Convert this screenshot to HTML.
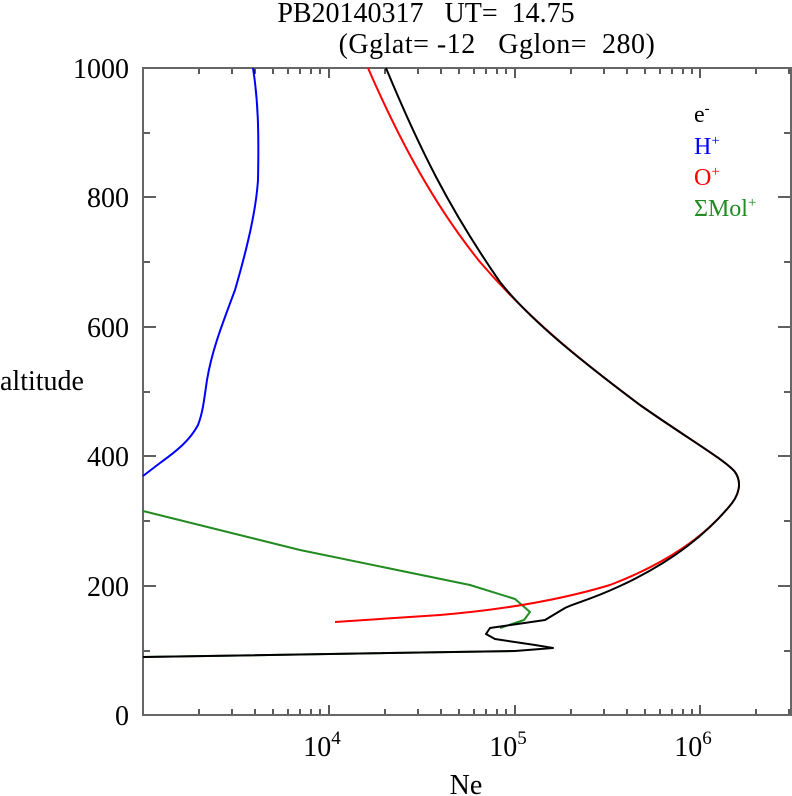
<!DOCTYPE html>
<html><head><meta charset="utf-8"><style>
body{margin:0;background:#fff}
svg{display:block;font-family:"Liberation Serif",serif}
</style></head><body>
<svg width="792" height="796" viewBox="0 0 792 796" xmlns="http://www.w3.org/2000/svg">
<text x="426" y="22" font-size="28" text-anchor="middle" xml:space="preserve">PB20140317   UT=  14.75</text>
<text x="497" y="53" font-size="28" text-anchor="middle" xml:space="preserve" letter-spacing="0.5">(Gglat= -12   Gglon=  280)</text>
<g stroke="#000" stroke-width="1.3">
<path d="M143 68h13M143 197h13M143 327h13M143 456h13M143 586h13M143 715h13
M143 133h7M143 262h7M143 392h7M143 521h7M143 651h7
M791 68h-13M791 197h-13M791 327h-13M791 456h-13M791 586h-13M791 715h-13
M791 133h-7M791 262h-7M791 392h-7M791 521h-7M791 651h-7"/>
<path d="M329 715v-10M515 715v-10M700 715v-10
M199 715v-6M232 715v-6M255 715v-6M273 715v-6M288 715v-6M300 715v-6M311 715v-6M320 715v-6
M385 715v-6M418 715v-6M441 715v-6M459 715v-6M474 715v-6M486 715v-6M497 715v-6M506 715v-6
M571 715v-6M604 715v-6M627 715v-6M645 715v-6M660 715v-6M672 715v-6M683 715v-6M692 715v-6
M756 715v-6M789 715v-6"/>
<path d="M329 68v10M515 68v10M700 68v10
M199 68v6M232 68v6M255 68v6M273 68v6M288 68v6M300 68v6M311 68v6M320 68v6
M385 68v6M418 68v6M441 68v6M459 68v6M474 68v6M486 68v6M497 68v6M506 68v6
M571 68v6M604 68v6M627 68v6M645 68v6M660 68v6M672 68v6M683 68v6M692 68v6
M756 68v6M789 68v6"/>
</g>
<rect x="143" y="68" width="648" height="647" fill="none" stroke="#666" stroke-width="2"/>
<g font-size="28" text-anchor="end">
<text x="129" y="78">1000</text><text x="129" y="207">800</text><text x="129" y="337">600</text>
<text x="129" y="466">400</text><text x="129" y="596">200</text><text x="129" y="725">0</text>
</g>
<g font-size="28" text-anchor="middle">
<text x="322" y="756">10<tspan font-size="19" dy="-12">4</tspan></text>
<text x="508" y="756">10<tspan font-size="19" dy="-12">5</tspan></text>
<text x="693" y="756">10<tspan font-size="19" dy="-12">6</tspan></text>
<text x="466" y="794">Ne</text>
</g>
<text x="0" y="390" font-size="28">altitude</text>
<g font-size="24">
<text x="694" y="122">e<tspan font-size="15" dy="-9">-</tspan></text>
<text x="694" y="154" fill="#00f">H<tspan font-size="15" dy="-9">+</tspan></text>
<text x="694" y="185" fill="#f00">O<tspan font-size="15" dy="-9">+</tspan></text>
<text x="694" y="216" fill="#228b22">ΣMol<tspan font-size="15" dy="-9">+</tspan></text>
</g>
<g fill="none" stroke-width="2" stroke-linejoin="round">
<path stroke="#00f" d="M253 68 C258 100 259 130 258 180 C256 210 248 245 235 290 C222 325 212 350 207 380 C204 400 203 412 198 425 C190 440 178 450 160 463 L143 476"/>
<path stroke="#228b22" d="M143 511 L300 550 L470 585 L515 599 L530 612 L524 620 L500 628 M515 651 L143 657"/>
<path stroke="#f00" d="M368 68 C395 130 430 200 480 262 C530 320 580 360 640 405 C690 440 725 460 735 472 C742 482 740 495 728 508 C705 535 670 562 610 585 C560 600 500 610 440 615 L335 622"/>
<path stroke="#000" d="M386 68 C420 150 450 210 500 282 C530 320 580 360 640 405 C690 440 725 460 735 472 C742 482 740 495 728 508 C705 535 672 562 620 586 C590 600 575 603 565 608 L545 620 L490 628 L486 634 L495 639 L535 645 L553 648 L515 651 L143 657"/>
</g>
</svg>
</body></html>
